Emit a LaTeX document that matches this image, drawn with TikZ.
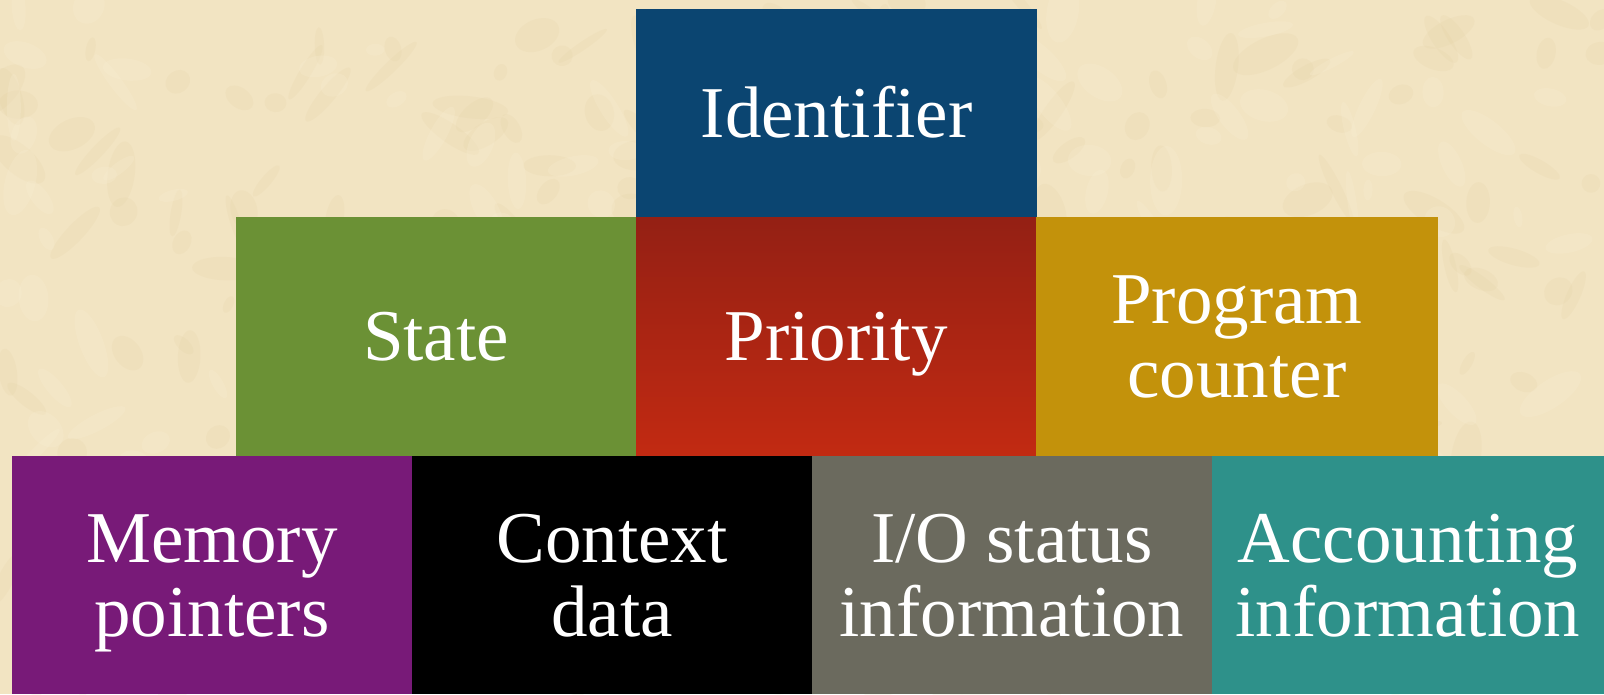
\documentclass[tikz,border=0pt]{standalone}
\usepackage{fontspec}
\setmainfont{Liberation Serif}
\definecolor{bg}{RGB}{242,228,194}
\definecolor{bgdark}{RGB}{222,200,150}
\definecolor{bglight}{RGB}{250,240,215}
\definecolor{cid}{RGB}{11,69,113}
\definecolor{cstate}{RGB}{107,145,53}
\definecolor{cpritop}{RGB}{148,32,20}
\definecolor{cpribot}{RGB}{194,42,18}
\definecolor{cprog}{RGB}{195,146,11}
\definecolor{cmem}{RGB}{120,26,120}
\definecolor{cctx}{RGB}{0,0,0}
\definecolor{cio}{RGB}{107,106,94}
\definecolor{cacc}{RGB}{46,145,138}
\newcommand\twoline[2]{\rule{0pt}{70pt}#1\\#2\rule[-22pt]{0pt}{22pt}}
\newcommand\oneline[1]{\rule{0pt}{70pt}#1\rule[-22pt]{0pt}{22pt}}
\begin{document}
\begin{tikzpicture}[x=1pt,y=-1pt,
  blk/.style={rectangle, inner sep=0pt, outer sep=0pt, anchor=north west,
    minimum width=400pt, text=white, align=center,
    font=\fontsize{73}{74}\selectfont},
  row1/.style={minimum height=208pt},
  row2/.style={minimum height=239pt},
  row3/.style={minimum height=238pt}]
\useasboundingbox (0,0) rectangle (1604,694);
\fill[bg] (0,0) rectangle (1604,694);
% parchment mottling
\pgfmathsetseed{7}
\begin{scope}
\clip (0,0) rectangle (1604,694);
\foreach \i in {1,...,260}{
  \pgfmathsetmacro{\px}{rnd*1604}
  \pgfmathsetmacro{\py}{rnd*694}
  \pgfmathsetmacro{\rx}{8+rnd*30}
  \pgfmathsetmacro{\ry}{4+rnd*12}
  \pgfmathsetmacro{\rot}{rnd*180}
  \fill[bgdark, opacity=0.12, rotate around={\rot:(\px,\py)}] (\px,\py) ellipse ({\rx pt} and {\ry pt});
}
\foreach \i in {1,...,200}{
  \pgfmathsetmacro{\px}{rnd*1604}
  \pgfmathsetmacro{\py}{rnd*694}
  \pgfmathsetmacro{\rx}{8+rnd*28}
  \pgfmathsetmacro{\ry}{4+rnd*12}
  \pgfmathsetmacro{\rot}{rnd*180}
  \fill[bglight, opacity=0.22, rotate around={\rot:(\px,\py)}] (\px,\py) ellipse ({\rx pt} and {\ry pt});
}
\end{scope}
% row 1
\node[blk,row1,fill=cid,minimum width=401pt] (ident) at (636,9) {\oneline{Identifier}};
% row 2
\node[blk,row2,fill=cstate] (state) at (236,217) {\oneline{State}};
\node[blk,row2,top color=cpritop,bottom color=cpribot] (prio) at (636,217) {\oneline{Priority}};
\node[blk,row2,fill=cprog,minimum width=402pt] (prog) at (1036,217) {\twoline{Program}{counter}};
% row 3
\node[blk,row3,fill=cmem] (mem) at (12,456) {\twoline{Memory}{pointers}};
\node[blk,row3,fill=cctx] (ctx) at (412,456) {\twoline{Context}{data}};
\node[blk,row3,fill=cio] (io) at (812,456) {\twoline{I/O status}{information}};
\node[blk,row3,fill=cacc,minimum width=392pt] (acc) at (1212,456) {\twoline{Accounting}{information}};
\end{tikzpicture}
\end{document}
